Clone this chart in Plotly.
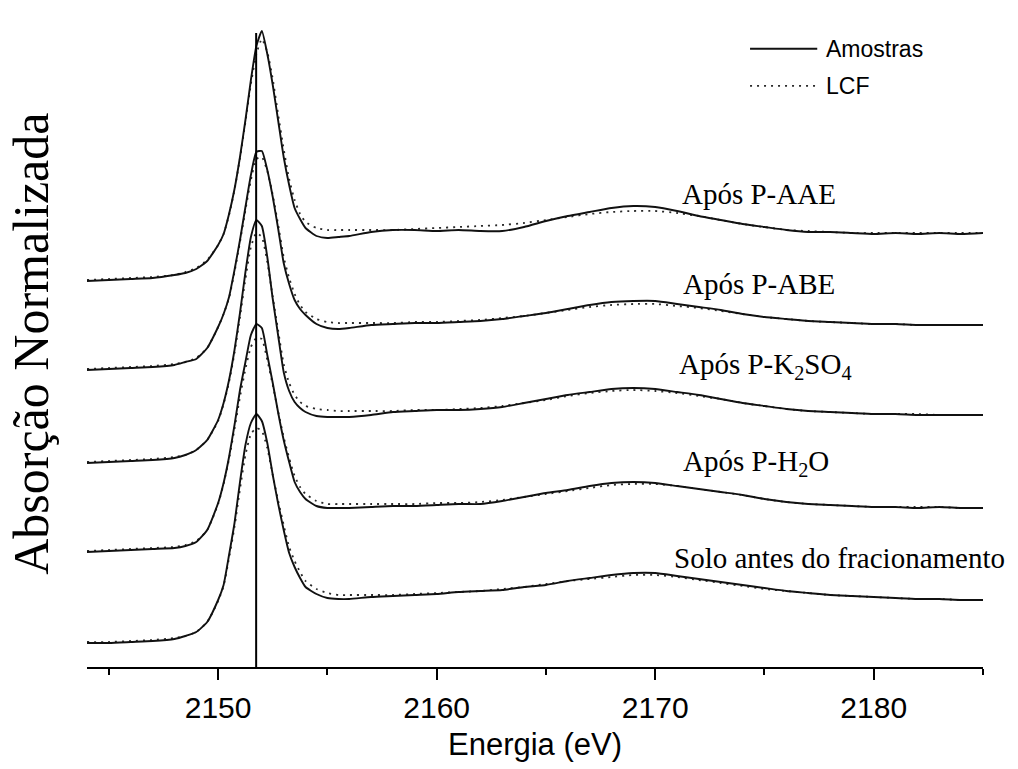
import plotly.graph_objects as go

# ---------------- data ----------------
energy = [2144, 2145, 2146, 2147, 2148, 2148.5, 2149, 2149.5,
          2150, 2150.25, 2150.5, 2150.75, 2151, 2151.25, 2151.5, 2151.75,
          2152, 2152.25, 2152.5, 2152.75, 2153, 2153.25, 2153.5, 2153.75,
          2154, 2154.5, 2155, 2155.5, 2156,
          2157, 2158, 2159, 2160, 2161, 2162, 2163, 2164, 2165, 2166,
          2167, 2168, 2169, 2170, 2171, 2172, 2173, 2174, 2175, 2176,
          2177, 2178, 2179, 2180, 2181, 2182, 2183, 2184, 2185]

series_names = ["Após P-AAE", "Após P-ABE", "Após P-K<sub>2</sub>SO<sub>4</sub>",
                "Após P-H<sub>2</sub>O", "Solo antes do fracionamento"]

amostra_aae = [3.86, 3.87, 3.88, 3.89, 3.92, 3.94, 3.98, 4.06,
               4.22, 4.33, 4.53, 4.78, 5.10, 5.47, 5.87, 6.21,
               6.36, 6.13, 5.82, 5.46, 5.10, 4.82, 4.59, 4.48,
               4.39, 4.31, 4.29, 4.30, 4.31,
               4.35, 4.37, 4.37, 4.36, 4.37, 4.36, 4.36, 4.40, 4.46, 4.51,
               4.55, 4.59, 4.61, 4.60, 4.56, 4.51, 4.47, 4.43, 4.40, 4.37,
               4.35, 4.35, 4.34, 4.33, 4.34, 4.33, 4.34, 4.33, 4.34]
lcf_aae = [3.87, 3.88, 3.89, 3.90, 3.92, 3.95, 3.99, 4.07,
           4.22, 4.33, 4.52, 4.77, 5.09, 5.45, 5.83, 6.13,
           6.28, 6.15, 5.88, 5.52, 5.18, 4.88, 4.67, 4.53,
           4.45, 4.39, 4.37, 4.37, 4.37,
           4.37, 4.37, 4.38, 4.39, 4.40, 4.41, 4.42, 4.44, 4.47, 4.50,
           4.53, 4.55, 4.56, 4.56, 4.54, 4.51, 4.47, 4.43, 4.40, 4.37,
           4.36, 4.35, 4.34, 4.34, 4.34, 4.34, 4.34, 4.34, 4.34]

amostra_abe = [2.97, 2.98, 2.99, 3.00, 3.02, 3.05, 3.08, 3.19,
               3.40, 3.53, 3.70, 3.97, 4.27, 4.60, 4.92, 5.15,
               5.16, 4.97, 4.70, 4.38, 4.04, 3.83, 3.67, 3.58,
               3.52, 3.43, 3.39, 3.38, 3.39,
               3.42, 3.43, 3.44, 3.44, 3.45, 3.46, 3.48, 3.51, 3.54, 3.58,
               3.62, 3.65, 3.66, 3.66, 3.63, 3.60, 3.57, 3.53, 3.50, 3.48,
               3.46, 3.45, 3.44, 3.43, 3.43, 3.42, 3.42, 3.42, 3.42]
lcf_abe = [2.98, 2.99, 3.00, 3.01, 3.03, 3.05, 3.09, 3.19,
           3.40, 3.53, 3.69, 3.95, 4.25, 4.57, 4.87, 5.08,
           5.10, 4.96, 4.72, 4.42, 4.10, 3.89, 3.73, 3.62,
           3.55, 3.48, 3.45, 3.44, 3.44,
           3.44, 3.44, 3.45, 3.45, 3.46, 3.47, 3.49, 3.51, 3.54, 3.57,
           3.60, 3.62, 3.63, 3.63, 3.61, 3.59, 3.56, 3.53, 3.50, 3.48,
           3.46, 3.45, 3.44, 3.43, 3.43, 3.42, 3.42, 3.42, 3.42]

amostra_k2so4 = [2.04, 2.05, 2.06, 2.07, 2.09, 2.12, 2.17, 2.27,
                 2.47, 2.64, 2.87, 3.17, 3.54, 3.95, 4.30, 4.47,
                 4.41, 4.10, 3.68, 3.31, 2.95, 2.76, 2.65, 2.59,
                 2.55, 2.51, 2.50, 2.50, 2.50,
                 2.52, 2.55, 2.56, 2.57, 2.57, 2.58, 2.60, 2.64, 2.68, 2.72,
                 2.75, 2.78, 2.79, 2.78, 2.75, 2.72, 2.68, 2.64, 2.61, 2.58,
                 2.56, 2.55, 2.54, 2.53, 2.53, 2.52, 2.52, 2.52, 2.52]
lcf_k2so4 = [2.05, 2.06, 2.07, 2.08, 2.10, 2.12, 2.17, 2.27,
             2.46, 2.63, 2.85, 3.14, 3.50, 3.88, 4.20, 4.34,
             4.30, 4.05, 3.70, 3.36, 3.03, 2.84, 2.72, 2.65,
             2.61, 2.58, 2.57, 2.56, 2.56,
             2.56, 2.56, 2.57, 2.57, 2.58, 2.59, 2.61, 2.64, 2.67, 2.71,
             2.74, 2.76, 2.77, 2.76, 2.74, 2.71, 2.68, 2.64, 2.61, 2.58,
             2.56, 2.55, 2.54, 2.53, 2.53, 2.53, 2.52, 2.52, 2.52]

amostra_h2o = [1.15, 1.16, 1.17, 1.18, 1.19, 1.21, 1.25, 1.37,
               1.64, 1.84, 2.10, 2.42, 2.77, 3.05, 3.32, 3.43,
               3.39, 3.12, 2.84, 2.54, 2.27, 2.05, 1.85, 1.75,
               1.68, 1.61, 1.59, 1.59, 1.59,
               1.60, 1.61, 1.61, 1.62, 1.63, 1.63, 1.66, 1.70, 1.74, 1.77,
               1.81, 1.84, 1.85, 1.84, 1.81, 1.78, 1.75, 1.72, 1.68, 1.65,
               1.63, 1.62, 1.61, 1.60, 1.60, 1.59, 1.60, 1.59, 1.59]
lcf_h2o = [1.16, 1.17, 1.18, 1.19, 1.20, 1.22, 1.26, 1.37,
           1.63, 1.83, 2.08, 2.38, 2.70, 2.98, 3.20, 3.29,
           3.28, 3.07, 2.82, 2.55, 2.30, 2.09, 1.91, 1.80,
           1.73, 1.66, 1.63, 1.63, 1.63,
           1.63, 1.63, 1.63, 1.64, 1.64, 1.65, 1.67, 1.70, 1.73, 1.76,
           1.79, 1.82, 1.83, 1.83, 1.81, 1.78, 1.75, 1.72, 1.68, 1.65,
           1.63, 1.62, 1.61, 1.60, 1.60, 1.60, 1.60, 1.59, 1.59]

amostra_solo = [0.24, 0.24, 0.25, 0.26, 0.28, 0.31, 0.35, 0.45,
                0.67, 0.82, 1.12, 1.44, 1.85, 2.22, 2.44, 2.53,
                2.46, 2.24, 1.92, 1.63, 1.37, 1.14, 1.00, 0.89,
                0.80, 0.73, 0.69, 0.68, 0.68,
                0.70, 0.71, 0.72, 0.73, 0.75, 0.76, 0.77, 0.80, 0.82, 0.86,
                0.89, 0.92, 0.94, 0.94, 0.91, 0.88, 0.85, 0.82, 0.79, 0.76,
                0.74, 0.72, 0.71, 0.70, 0.69, 0.68, 0.68, 0.67, 0.67]
lcf_solo = [0.25, 0.25, 0.26, 0.27, 0.29, 0.31, 0.35, 0.45,
            0.66, 0.81, 1.09, 1.40, 1.78, 2.12, 2.33, 2.39,
            2.36, 2.19, 1.92, 1.66, 1.42, 1.20, 1.06, 0.95,
            0.86, 0.78, 0.74, 0.72, 0.72,
            0.72, 0.72, 0.73, 0.74, 0.75, 0.76, 0.78, 0.80, 0.83, 0.86,
            0.88, 0.90, 0.92, 0.92, 0.90, 0.87, 0.84, 0.81, 0.78, 0.76,
            0.74, 0.72, 0.71, 0.70, 0.69, 0.68, 0.68, 0.67, 0.67]

amostras = [amostra_aae, amostra_abe, amostra_k2so4, amostra_h2o, amostra_solo]
lcfs = [lcf_aae, lcf_abe, lcf_k2so4, lcf_h2o, lcf_solo]

# label anchor positions (energy, absorbance)
label_x = [2174.75, 2174.75, 2175.05, 2174.6, 2178.45]
label_y = [4.73, 3.83, 3.01, 2.04, 1.09]

peak_energy = 2151.74
peak_label = "a"

x_ticks = [2150, 2160, 2170, 2180]

# ---------------- figure ----------------
SERIF = "Liberation Serif, Times New Roman, serif"
SANS = "Liberation Sans, Arial, sans-serif"
DOTS = "2px,5px"

fig = go.Figure()

for i, (am, lc) in enumerate(zip(amostras, lcfs)):
    fig.add_trace(go.Scatter(
        x=energy, y=lc, mode="lines", name="LCF",
        line=dict(color="#2a2a2a", width=1.8, dash=DOTS, shape="spline", smoothing=0.5),
        showlegend=False, hoverinfo="skip"))
    fig.add_trace(go.Scatter(
        x=energy, y=am, mode="lines", name="Amostras",
        line=dict(color="#111111", width=1.9, shape="spline", smoothing=0.5),
        showlegend=False))

# vertical reference line at the white-line peak
fig.add_shape(type="line", xref="x", yref="y", x0=peak_energy, x1=peak_energy,
              y0=0, y1=6.34, line=dict(color="black", width=2))
fig.add_annotation(x=peak_energy, y=6.49, xref="x", yref="y", text=peak_label,
                   showarrow=False, font=dict(family=SERIF, size=22, color="black"))

# series labels
for name, lx, ly in zip(series_names, label_x, label_y):
    fig.add_annotation(x=lx, y=ly, xref="x", yref="y", text=name, showarrow=False,
                       xanchor="center", yanchor="middle",
                       font=dict(family=SERIF, size=29, color="black"))

# custom legend (long line samples as in the original)
fig.add_shape(type="line", xref="paper", yref="paper", x0=0.740, x1=0.815,
              y0=0.966, y1=0.966, line=dict(color="#111111", width=1.9))
fig.add_shape(type="line", xref="paper", yref="paper", x0=0.740, x1=0.815,
              y0=0.908, y1=0.908, line=dict(color="#2a2a2a", width=1.8, dash=DOTS))
fig.add_annotation(x=0.822, y=0.966, xref="paper", yref="paper", text="Amostras",
                   showarrow=False, xanchor="left", yanchor="middle",
                   font=dict(family=SANS, size=23, color="black"))
fig.add_annotation(x=0.822, y=0.908, xref="paper", yref="paper", text="LCF",
                   showarrow=False, xanchor="left", yanchor="middle",
                   font=dict(family=SANS, size=23, color="black"))

# y-axis title (rotated)
fig.add_annotation(x=0, y=0.505, xref="paper", yref="paper", xshift=-56,
                   text="Absorção Normalizada", textangle=-90, showarrow=False,
                   xanchor="center", yanchor="middle", borderpad=0,
                   font=dict(family=SERIF, size=50, color="black"))

fig.update_layout(
    width=1018, height=769,
    margin=dict(l=87, r=35, t=27, b=102),
    paper_bgcolor="white", plot_bgcolor="white",
    showlegend=False,
    xaxis=dict(
        range=[2144, 2185], tickmode="array", tickvals=x_ticks,
        ticks="outside", ticklen=11, tickwidth=2, tickcolor="black",
        showline=True, linewidth=2, linecolor="black", mirror=False,
        showgrid=False, zeroline=False,
        tickfont=dict(family=SANS, size=30, color="black"),
        ticklabelstandoff=2,
        minor=dict(dtick=5, tick0=2145, ticks="outside", ticklen=6, tickwidth=2,
                   tickcolor="black", showgrid=False),
        title=dict(text="Energia (eV)", font=dict(family=SANS, size=31, color="black"),
                   standoff=10),
        automargin=False,
    ),
    yaxis=dict(
        range=[0, 6.4], showticklabels=False, ticks="", showline=False,
        showgrid=False, zeroline=False, automargin=False,
    ),
)

fig.write_html("out.html", config={"displayModeBar": False, "staticPlot": True})

# remove the browser's default 8px body margin so the figure fills the window
with open("out.html", "r", encoding="utf-8") as fh:
    html = fh.read()
html = html.replace("<head>", "<head><style>html,body{margin:0;padding:0;overflow:hidden;}</style>", 1)
with open("out.html", "w", encoding="utf-8") as fh:
    fh.write(html)
